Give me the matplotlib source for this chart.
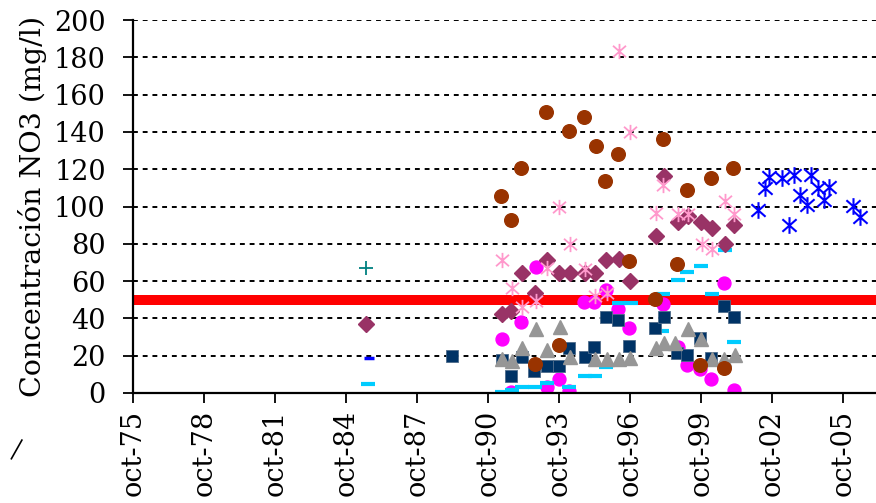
import numpy as np
import matplotlib
matplotlib.use('Agg')
import matplotlib.pyplot as plt
from matplotlib.path import Path
from matplotlib.lines import Line2D

# Sampling dates as decimal years, NO3 concentration in mg/l

BROWN_X = [1991.30, 1991.72, 1992.14, 1992.73, 1993.20, 1993.75, 1994.17, 1994.80,
           1995.31, 1995.69, 1996.24, 1996.70, 1997.80, 1998.14, 1998.73, 1999.15,
           1999.70, 2000.17, 2000.72, 2001.10]
BROWN_Y = [105.6, 92.8, 120.6, 15.5, 150.7, 25.7, 140.5, 148.0,
           132.4, 113.7, 128.2, 70.8, 50.4, 136.2, 69.2, 108.8,
           15.0, 115.3, 13.4, 120.6]

PINK_X = [1991.34, 1991.76, 1992.18, 1992.78, 1993.24, 1993.75, 1994.21, 1994.85,
          1995.27, 1995.77, 1996.28, 1996.74, 1997.85, 1998.14, 1998.78, 1999.20,
          1999.79, 2000.21, 2000.76, 2001.14]
PINK_Y = [71.3, 56.3, 46.1, 49.3, 67.0, 99.7, 79.9, 66.5,
          52.0, 53.6, 183.4, 139.9, 96.5, 111.5, 96.0, 96.0,
          79.9, 77.2, 103.0, 96.0]

PURPLE_X = [1985.59, 1991.34, 1991.72, 1992.18, 1992.73, 1993.24, 1993.75, 1994.21,
            1994.85, 1995.27, 1995.73, 1996.28, 1996.74, 1997.85, 1998.18, 1998.78,
            1999.20, 1999.75, 2000.21, 2000.76, 2001.14]
PURPLE_Y = [37.0, 42.4, 44.0, 64.3, 53.6, 71.3, 64.3, 64.3,
            64.3, 64.3, 71.3, 71.8, 60.1, 84.2, 116.4, 91.7,
            94.9, 91.7, 88.5, 79.9, 90.1]

NAVY_X = [1989.23, 1991.34, 1991.72, 1992.18, 1992.69, 1993.24, 1993.75, 1994.17,
          1994.85, 1995.23, 1995.73, 1996.24, 1996.70, 1997.80, 1998.18, 1998.73,
          1999.15, 1999.70, 2000.17, 2000.72, 2001.14]
NAVY_Y = [19.8, 17.7, 9.1, 19.3, 11.8, 14.5, 14.5, 24.1,
          19.3, 24.7, 40.8, 39.1, 25.2, 34.9, 40.8, 21.4,
          20.4, 29.5, 18.8, 46.6, 40.8]

GRAY_X = [1991.34, 1991.76, 1992.18, 1992.78, 1993.24, 1993.79, 1994.21, 1995.27,
          1995.77, 1996.28, 1996.74, 1997.85, 1998.18, 1998.65, 1999.20, 1999.75,
          2000.21, 2000.72, 2001.18]
GRAY_Y = [18.2, 17.2, 24.1, 34.3, 23.1, 35.4, 19.3, 18.2,
          18.2, 18.2, 18.8, 24.1, 26.8, 26.8, 34.3, 29.0,
          18.2, 18.2, 20.4]

MAGENTA_X = [1991.34, 1991.72, 1992.14, 1992.78, 1993.24, 1993.75, 1994.17, 1994.80,
             1995.23, 1995.73, 1996.24, 1996.70, 1998.14, 1998.78, 1999.15, 1999.70,
             2000.17, 2000.72, 2001.14]
MAGENTA_Y = [29.0, 0.5, 38.1, 67.6, 3.2, 7.5, 1.1, 48.8,
             48.8, 55.2, 45.0, 34.9, 47.7, 24.7, 15.0, 12.9,
             7.5, 59.0, 1.6]

CYAN_X = [1985.68, 1991.34, 1991.76, 1992.18, 1992.73, 1993.24, 1994.17, 1994.85,
          1995.27, 1995.73, 1996.28, 1996.78, 1998.10, 1998.14, 1998.78, 1999.15,
          1999.75, 2000.21, 2000.76, 2001.14]
CYAN_Y = [4.8, 0.5, 1.6, 3.2, 3.2, 5.4, 3.2, 9.1,
          9.1, 13.9, 48.5, 48.5, 33.0, 53.1, 60.6, 64.9,
          68.1, 53.1, 76.7, 27.3]

BLUE_X = [2002.15, 2002.45, 2002.62, 2003.17, 2003.46, 2003.68, 2003.93, 2004.22,
          2004.39, 2004.69, 2004.94, 2005.15, 2006.17, 2006.46]
BLUE_Y = [98.1, 109.9, 115.8, 115.3, 90.1, 116.9, 106.2, 100.8,
          116.9, 109.9, 103.5, 110.5, 100.3, 94.4]

TEAL_X, TEAL_Y = [1985.59], [67.0]
DASH_X, DASH_Y = [1985.72], [18.8]

NO3_LIMIT = 50

TICK_YEARS = [1975, 1978, 1981, 1984, 1987, 1990, 1993, 1996, 1999, 2002, 2005]
TICK_LABELS = ['oct-75', 'oct-78', 'oct-81', 'oct-84', 'oct-87', 'oct-90',
               'oct-93', 'oct-96', 'oct-99', 'oct-02', 'oct-05']

# Excel-style star: vertical bar plus an X
STAR = Path([(0, -1), (0, 1), (-0.85, -0.75), (0.85, 0.75), (-0.85, 0.75), (0.85, -0.75)],
            [Path.MOVETO, Path.LINETO] * 3)

plt.rcParams['font.family'] = 'DejaVu Serif'
FS = 19.5

fig = plt.figure(figsize=(8.76, 5.03), dpi=100)
ax = fig.add_axes([0.1518, 0.2187, 0.8482, 0.7415])

ax.axhline(NO3_LIMIT, color='#FF0000', lw=7.2, zorder=1)

ax.plot(MAGENTA_X, MAGENTA_Y, 'o', ms=9.3, color='#FF00FF', mec='#FF00FF', zorder=2)
ax.plot(CYAN_X, CYAN_Y, '_', ms=10, mew=3, color='#00CCFF', zorder=2)
ax.plot(DASH_X, DASH_Y, '_', ms=7, mew=2.5, color='#0000FF', zorder=2)
ax.plot(NAVY_X, NAVY_Y, 's', ms=9, color='#003366', mec='#4d6b8a', mew=0.6, zorder=3)
ax.plot(GRAY_X, GRAY_Y, '^', ms=10.5, color='#969696', mec='#969696', zorder=4)
ax.plot(PURPLE_X, PURPLE_Y, 'D', ms=8.3, color='#993366', mec='#993366', zorder=5)
ax.plot(PINK_X, PINK_Y, ls='none', marker=STAR, ms=11, mew=1.3, color='#FF99CC', zorder=6)
ax.plot(BROWN_X, BROWN_Y, 'o', ms=9.8, color='#993300', mec='#993300', zorder=7)
ax.plot(BLUE_X, BLUE_Y, ls='none', marker=STAR, ms=12, mew=1.5, color='#0000FF', zorder=7)
ax.plot(TEAL_X, TEAL_Y, '+', ms=10, mew=1.3, color='#008080', zorder=7)

ax.set_xlim(1975.75, 2007.15)
ax.set_ylim(0, 200)
ax.set_yticks(np.arange(0, 201, 20))
ax.set_xticks([y + 0.75 for y in TICK_YEARS])
ax.set_xticklabels(TICK_LABELS, rotation=90)

ax.grid(True, axis='y', color='black', lw=1.4, ls=(0, (2.5, 2.5)), zorder=0)
ax.set_axisbelow(True)

for side in ('top', 'right'):
    ax.spines[side].set_visible(False)
for side in ('left', 'bottom'):
    ax.spines[side].set_linewidth(1.6)

ax.tick_params(axis='both', direction='out', length=7, width=1.3, labelsize=FS)
ax.tick_params(axis='y', pad=12.5)
ax.tick_params(axis='x', pad=5)
ax.set_ylabel('Concentración NO3 (mg/l)', fontsize=20.5, labelpad=5)

# stray stroke at lower left
fig.add_artist(Line2D([0.013, 0.025], [0.088, 0.125], color='black', lw=1.2))

fig.savefig('out.png', dpi=100)
